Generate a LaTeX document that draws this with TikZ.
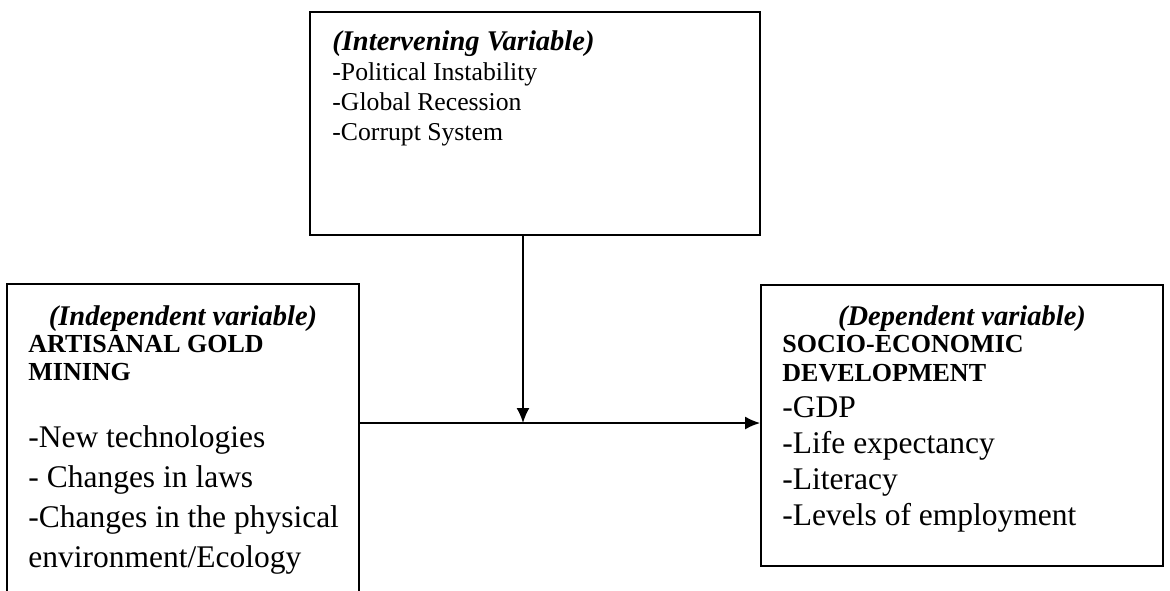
\documentclass[tikz,border=0pt]{standalone}
\usepackage{fontspec}
\setmainfont{Liberation Serif}
\usetikzlibrary{arrows.meta}

\tikzset{
  box/.style={draw, line width=0.9pt, inner sep=0pt},
  small/.style={anchor=base west, inner sep=0pt, font=\fontsize{12.85}{15}\selectfont},
  big/.style={anchor=base west, inner sep=0pt, font=\fontsize{15.75}{19}\selectfont},
  head/.style={anchor=base, inner sep=0pt, font=\fontsize{14.25}{17}\selectfont\bfseries\itshape},
  caps/.style={anchor=base west, inner sep=0pt, font=\fontsize{13}{16}\selectfont\bfseries},
  link/.style={line width=0.9pt, -{Latex[length=7.5pt,width=6.5pt]}}
}

\begin{document}
\begin{tikzpicture}[x=0.5pt,y=-0.5pt]
	\useasboundingbox (0,0) rectangle (1170,590);
	\fill[white] (0,0) rectangle (1170,590);
	\clip (0,0) rectangle (1170,590);
	% the three boxes
	\node[box, minimum width=225pt, minimum height=111.5pt] (inter) at (535,123.5) {};
	\node[box, minimum width=176pt, minimum height=168pt] (indep) at (183,452) {};
	\node[box, minimum width=201pt, minimum height=140.5pt] (dep) at (962,425.5) {};
	% intervening variable
	\node[head, anchor=base west] (interhead) at (332,50) {(Intervening Variable)};
	\foreach \t [count=\i] in {-Political Instability, -Global Recession, -Corrupt System}
		\node[small] (interitem\i) at (332,{50+30*\i}) {\t};
	% independent variable
	\node[head] (indephead) at (183,325) {(Independent variable)};
	\node[caps] (indepname) at (28,352) {ARTISANAL GOLD};
	\node[caps] (indepname2) at (28,380) {MINING};
	\foreach \t [count=\i] in {-New technologies, - Changes in laws, -Changes in the physical, {environment/Ecology}}
		\node[big] (indepitem\i) at (28,{407+40*\i}) {\t};
	% dependent variable
	\node[head] (dephead) at (962,325) {(Dependent variable)};
	\node[caps] (depname) at (782,352) {SOCIO-ECONOMIC};
	\node[caps] (depname2) at (782,381) {DEVELOPMENT};
	\foreach \t [count=\i] in {-GDP, -Life expectancy, -Literacy, -Levels of employment}
		\node[big] (depitem\i) at (782,{381+36*\i}) {\t};
	% arrows
	\coordinate (meet) at (523,423);
	\draw[link] (inter.south -| meet) -- (meet);
	\draw[link] (indep.east |- meet) -- (dep.west |- meet);
\end{tikzpicture}
\end{document}
